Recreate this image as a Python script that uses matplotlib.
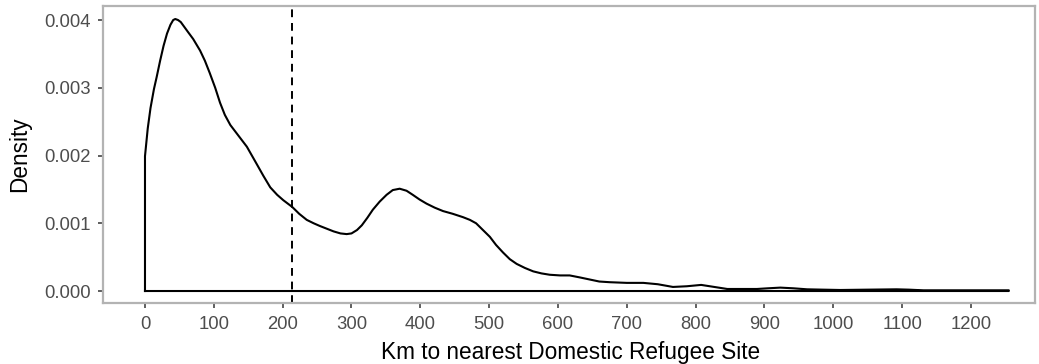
import matplotlib
matplotlib.use("Agg")
import matplotlib.pyplot as plt

# Density curve
km = [0, 4, 8, 13, 17, 22, 27, 32, 37, 41, 44, 48, 52, 57, 62, 70, 80, 87, 94, 102,
      109, 116, 124, 136, 148, 162, 172, 182, 192, 201, 214, 224, 235, 245, 254, 264,
      274, 284, 293, 300, 308, 315, 323, 331, 341, 351, 360, 370, 380, 389, 399, 409,
      421, 433, 447, 462, 472, 481, 491, 501, 510, 520, 530, 540, 552, 564, 576, 588,
      603, 617, 632, 646, 660, 675, 700, 724, 745, 767, 787, 808, 827, 846, 870, 889,
      905, 923, 942, 962, 985, 1010, 1050, 1092, 1110, 1131, 1180, 1220, 1255]
density = [0.00199, 0.0024, 0.0027, 0.00298, 0.00316, 0.0034, 0.00362, 0.0038,
           0.00393, 0.004, 0.004015, 0.004, 0.00397, 0.0039, 0.00383, 0.00372,
           0.00355, 0.0034, 0.00322, 0.003, 0.00278, 0.0026, 0.00245, 0.00229,
           0.00213, 0.00188, 0.0017, 0.00153, 0.00142, 0.00134, 0.00124, 0.00114,
           0.00105, 0.001, 0.00096, 0.00092, 0.00088, 0.00085, 0.00084, 0.00085,
           0.0009, 0.00097, 0.00108, 0.0012, 0.00132, 0.00142, 0.00149, 0.00151,
           0.00148, 0.00142, 0.00135, 0.00129, 0.00123, 0.00118, 0.00114, 0.00109,
           0.00105, 0.001, 0.0009, 0.0008, 0.00068, 0.00057, 0.00047, 0.0004,
           0.00034, 0.00029, 0.00026, 0.00024, 0.00023, 0.00023, 0.0002, 0.00017,
           0.00014, 0.00013, 0.00012, 0.00012, 0.0001, 0.00006, 0.00007, 0.00009,
           0.00006, 0.00003, 0.00003, 0.00003, 0.00004, 0.00005, 0.00004, 0.000025,
           0.00002, 0.000015, 0.00002, 0.000025, 0.00002, 0.00001, 0.00001,
           0.00001, 0.00001]
mean_km = 214

x_ticks = list(range(0, 1300, 100))
y_ticks = [0.000, 0.001, 0.002, 0.003, 0.004]

plt.rcParams['font.family'] = ['Liberation Sans', 'DejaVu Sans']

W, H = 1039, 364
fig = plt.figure(figsize=(W / 100, H / 100), dpi=100)
ax = fig.add_axes([103 / W, 1 - 303 / H, (1035 - 103) / W, (303 - 6) / H])

poly_x = [km[0]] + km + [km[-1], km[0]]
poly_y = [0] + density + [0, 0]
ax.plot(poly_x, poly_y, color='black', lw=1.5, solid_joinstyle='round')
ax.axvline(mean_km, color='black', lw=1.4, ls=(0, (4, 3)))

ax.set_xlim(-61, 1293)
ax.set_ylim(-0.000177, 0.004207)
ax.set_xticks(x_ticks)
ax.set_xticklabels([str(v) for v in x_ticks])
ax.set_yticks(y_ticks)
ax.set_yticklabels([f"{v:.3f}" for v in y_ticks])

for s in ax.spines.values():
    s.set_color('#B3B3B3')
    s.set_linewidth(1.6)
ax.tick_params(axis='both', colors='#333333', labelcolor='#4D4D4D', labelsize=13.3,
               length=3.6, width=1.1)
ax.tick_params(axis='x', pad=5.5)
ax.tick_params(axis='y', pad=5)

fig.text(571 / W, 1 - 359 / H, 'Km to nearest Domestic Refugee Site', fontsize=16.3,
         color='black', ha='center', va='baseline')
fig.text(26 / W, 1 - 154.5 / H, 'Density', fontsize=16.3, color='black', rotation=90,
         rotation_mode='anchor', ha='center', va='baseline')

fig.savefig('out.png', dpi=100)
